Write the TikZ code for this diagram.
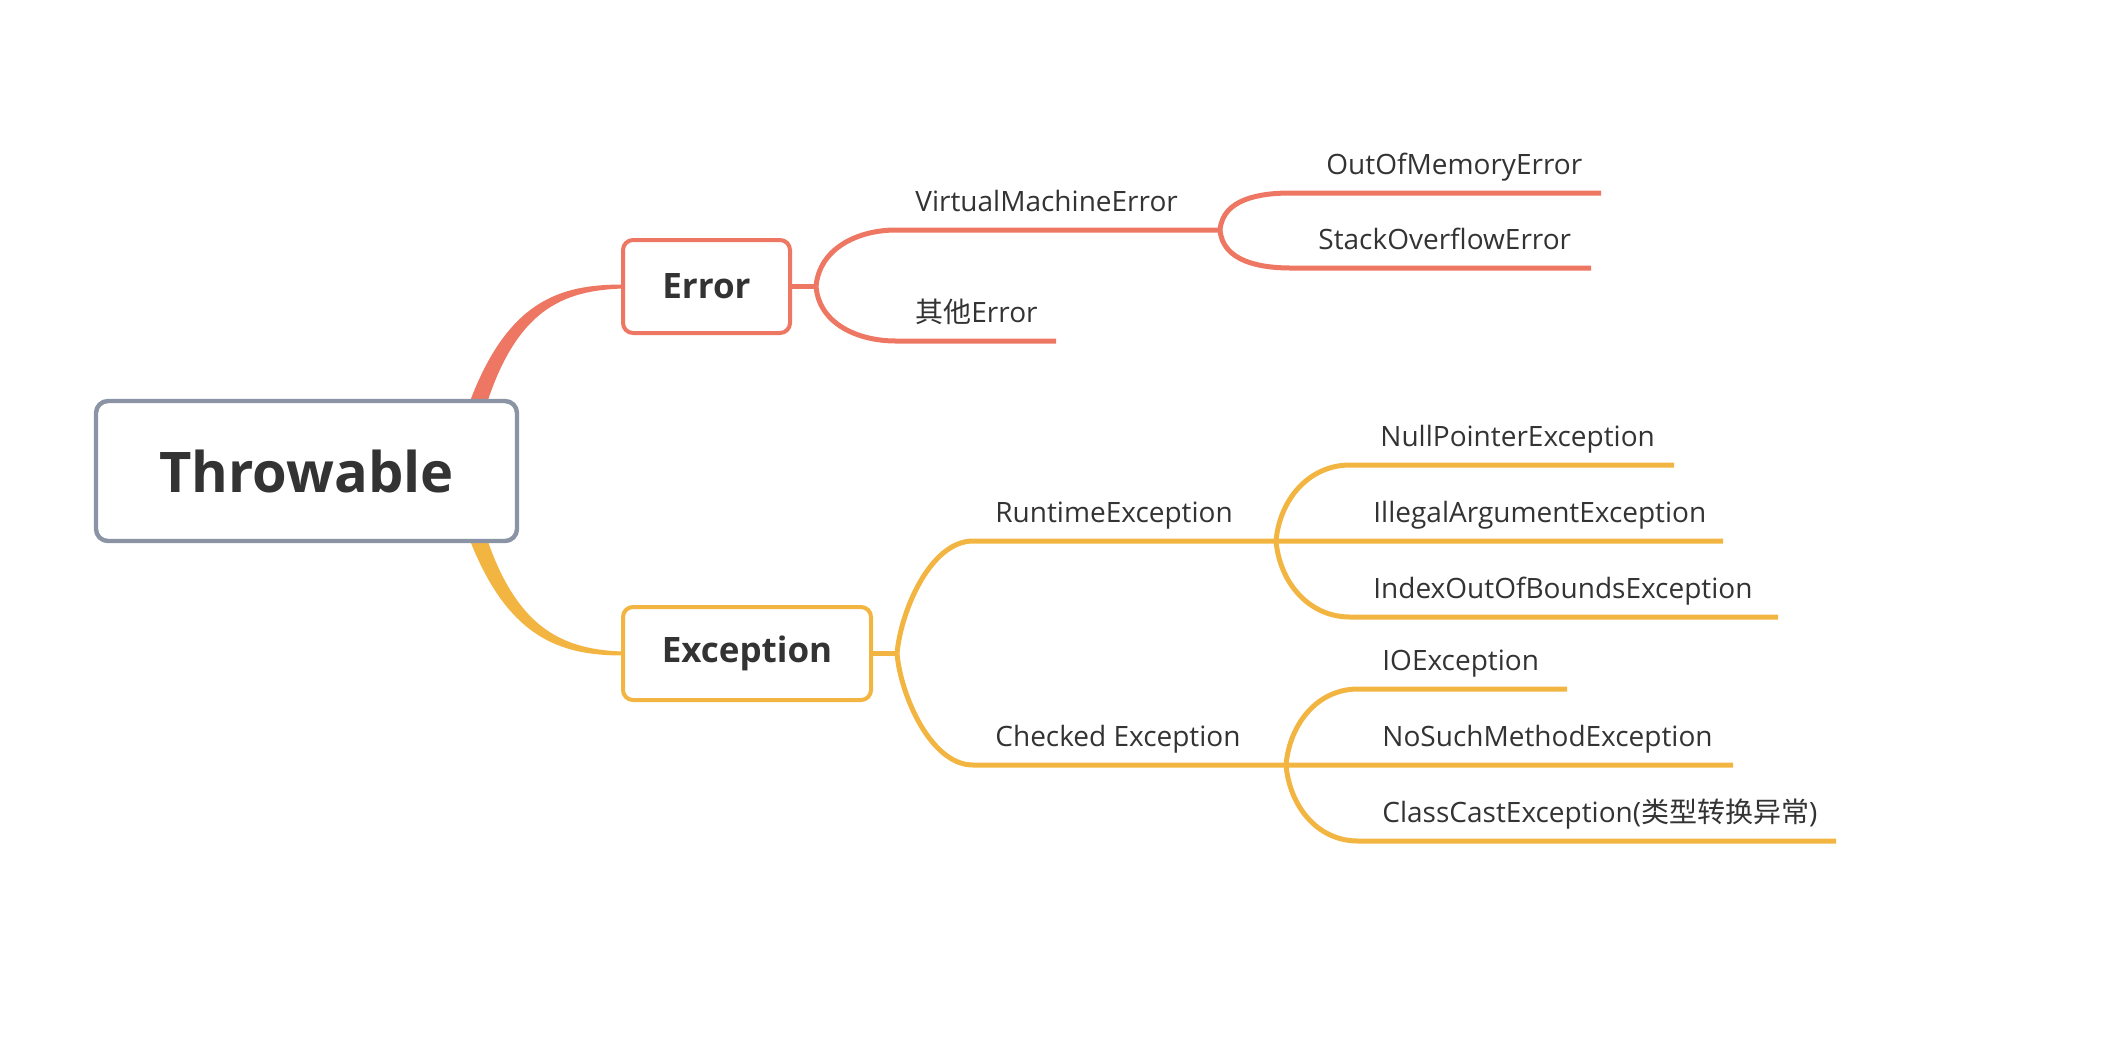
\documentclass[tikz,border=0pt]{standalone}
\usepackage{fontspec}
\setmainfont{Open Sans}
\newfontfamily\cjk{Noto Sans CJK SC}
\usetikzlibrary{calc,backgrounds}
\definecolor{errc}{HTML}{EE7763}
\definecolor{excc}{HTML}{F3B541}
\definecolor{rootc}{HTML}{8A94A4}
\definecolor{txtc}{HTML}{333333}

\begin{document}
\begin{tikzpicture}[x = 0.5pt, y = -0.5pt,
    rootbox/.style = {draw = rootc, line width = 2.2pt, rounded corners = 6pt, fill = white, text = txtc,
        minimum width = 210.5pt, minimum height = 70pt, font = \fontsize{28}{34}\selectfont\bfseries},
    topicbox/.style = {line width = 2pt, rounded corners = 5pt, fill = white, text = txtc,
        minimum height = 46.5pt, font = \fontsize{17.5}{21}\selectfont\bfseries},
    leaf/.style = {anchor = base west, inner sep = 0pt, text = txtc, font = \fontsize{14}{17}\selectfont},
    branch/.style = {line width = 2.5pt},
    forkup/.style = {out = 85, in = 180},
    forkdn/.style = {out = -85, in = 180}]
        \useasboundingbox (0,0) rectangle (2112,1040);
        % 根
        \node[rootbox](root)at(306.5,471){Throwable};
        % Error / Exception
        \node[topicbox, draw = errc, minimum width = 83.5pt](err)at(706.5,286.5){Error};
        \node[topicbox, draw = excc, minimum width = 124pt](exc)at(747,653.5){Exception};
        % Error 分支
        \coordinate(ef)at($(err.east)+(24,0)$);
        \coordinate(vmeA)at(896,230);
        \coordinate(vmeB)at(1220,230);
        \coordinate(othA)at(896,341);
        \coordinate(othB)at(1056,341);
        \coordinate(oomA)at(1291,193);
        \coordinate(oomB)at(1601,193);
        \coordinate(soA)at(1291,268);
        \coordinate(soB)at(1591,268);
        \node[leaf](vme)at($(vmeA)+(19,-19)$){VirtualMachineError};
        \node[leaf](oth)at($(othA)+(19,-19)$){{\cjk 其他}Error};
        \node[leaf](oom)at($(oomA)+(35,-19)$){OutOfMemoryError};
        \node[leaf](so)at($(soA)+(27,-19)$){StackOverflowError};
        % Exception 分支
        \coordinate(xf)at($(exc.east)+(24,0)$);
        \coordinate(rtA)at(973,541);
        \coordinate(rtB)at(1276,541);
        \coordinate(ckA)at(973,765);
        \coordinate(ckB)at(1286,765);
        \coordinate(nuA)at(1350,465);
        \coordinate(nuB)at(1674,465);
        \coordinate(ilB)at(1723,541);
        \coordinate(ixA)at(1350,617);
        \coordinate(ixB)at(1778,617);
        \coordinate(ioA)at(1358,689);
        \coordinate(ioB)at(1567,689);
        \coordinate(nsB)at(1733,765);
        \coordinate(ccA)at(1358,841);
        \coordinate(ccB)at(1836,841);
        \node[leaf](rt)at($(rtA)+(22,-19)$){RuntimeException};
        \node[leaf](ck)at($(ckA)+(22,-19)$){Checked Exception};
        \node[leaf](nu)at($(nuA)+(30,-19)$){NullPointerException};
        \node[leaf](il)at($(rtB)+(97,-19)$){IllegalArgumentException};
        \node[leaf](ix)at($(ixA)+(23,-19)$){IndexOutOfBoundsException};
        \node[leaf](io)at($(ioA)+(24,-19)$){IOException};
        \node[leaf](ns)at($(ckB)+(96,-19)$){NoSuchMethodException};
        \node[leaf](cc)at($(ccA)+(24,-19)$){ClassCastException({\cjk 类型转换异常})};
        % 连线
        \begin{scope}[on background layer]
            \path[fill = errc]($(root.north)+(160,12)$)
                .. controls ($(root.north)+(199,-99)$) and ($(err.west)+(-61,-2)$) .. ($(err.west)+(2,-2)$)
                -- ($(err.west)+(2,2)$)
                .. controls ($(err.west)+(-59,4)$) and ($(root.north)+(209,-89)$) .. ($(root.north)+(178,12)$)
                -- cycle;
            \path[fill = excc]($(root.south)+(160,-12)$)
                .. controls ($(root.south)+(199,95)$) and ($(exc.west)+(-61,2)$) .. ($(exc.west)+(2,2)$)
                -- ($(exc.west)+(2,-2)$)
                .. controls ($(exc.west)+(-59,-4)$) and ($(root.south)+(209,85)$) .. ($(root.south)+(178,-12)$)
                -- cycle;
            \path[draw, branch, errc](err.east)to(ef);
            \path[draw, branch, errc](ef)to[forkup](vmeA)to(vmeB);
            \path[draw, branch, errc](ef)to[forkdn](othA)to(othB);
            \path[draw, branch, errc](vmeB)to[forkup](oomA)to(oomB);
            \path[draw, branch, errc](vmeB)to[forkdn](soA)to(soB);
            \path[draw, branch, excc](exc.east)to(xf);
            \path[draw, branch, excc](xf)to[forkup, looseness = 0.8](rtA)to(rtB)to(ilB);
            \path[draw, branch, excc](xf)to[forkdn, looseness = 0.8](ckA)to(ckB)to(nsB);
            \path[draw, branch, excc](rtB)to[forkup](nuA)to(nuB);
            \path[draw, branch, excc](rtB)to[forkdn](ixA)to(ixB);
            \path[draw, branch, excc](ckB)to[forkup](ioA)to(ioB);
            \path[draw, branch, excc](ckB)to[forkdn](ccA)to(ccB);
        \end{scope}
    \end{tikzpicture}
\end{document}
